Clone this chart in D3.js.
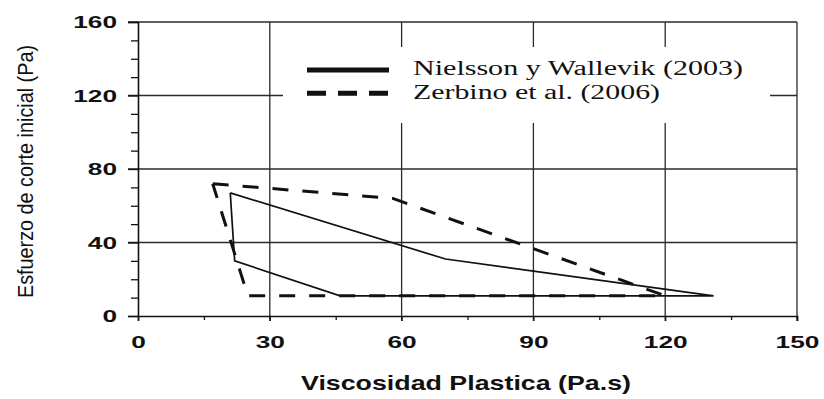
<!DOCTYPE html>
<html>
<head>
<meta charset="utf-8">
<script src="https://cdn.jsdelivr.net/npm/d3@7"></script>
<style>
  html, body { margin: 0; padding: 0; background: #fff; }
  svg { display: block; }
</style>
</head>
<body>
<svg id="chart" width="824" height="399"></svg>
<script>
// ---- data ----
const xTicks = [0, 30, 60, 90, 120, 150];
const xMinorTicks = [15, 45, 75, 105, 135];
const yTicks = [0, 40, 80, 120, 160];
const yMinorTicks = [10, 20, 30, 50, 60, 70, 90, 100, 110, 130, 140, 150];
const seriesNames = ["Nielsson y Wallevik (2003)", "Zerbino et al. (2006)"];
const nielssonX = [21, 70, 131, 46, 22, 21];
const nielssonY = [67, 31, 11, 11, 30, 67];
const zerbinoX = [17, 58, 120, 25, 17];
const zerbinoY = [72, 64, 11, 11, 72];
const xTitle = "Viscosidad Plastica (Pa.s)";
const yTitle = "Esfuerzo de corte inicial (Pa)";

// ---- layout ----
const svg = d3.select("#chart");
const x = d3.scaleLinear().domain([0, 150]).range([138, 797]);
const y = d3.scaleLinear().domain([0, 160]).range([316, 22]);
const ink = "#111";
const gridColor = "#2a2a2a";
const sansBold = "'Liberation Sans', Arial, sans-serif";
const digitAdv = 14.6;

// gridlines (horizontal, extend as major ticks to the left)
svg.append("g").selectAll("line").data(yTicks.filter(d => d > 0)).join("line")
  .attr("x1", x(0) - 10).attr("x2", x(150))
  .attr("y1", d => y(d)).attr("y2", d => y(d))
  .attr("stroke", gridColor).attr("stroke-width", 1.3);
// gridlines (vertical, extend as major ticks below)
svg.append("g").selectAll("line").data(xTicks.filter(d => d > 0)).join("line")
  .attr("x1", d => x(d)).attr("x2", d => x(d))
  .attr("y1", y(160)).attr("y2", y(0) + 5)
  .attr("stroke", gridColor).attr("stroke-width", 1.3);

// legend background (hides gridlines)
const lg = svg.append("g");
lg.append("rect").attr("x", 283).attr("y", 47).attr("width", 487).attr("height", 76).attr("fill", "#fff");

// data
const line = d3.line().x(d => x(d[0])).y(d => y(d[1]));
const nData = nielssonX.map((v, i) => [v, nielssonY[i]]);
const zData = zerbinoX.map((v, i) => [v, zerbinoY[i]]);
svg.append("path").datum(nData).attr("d", line)
  .attr("fill", "none").attr("stroke", ink).attr("stroke-width", 1.7)
  .attr("stroke-linejoin", "miter");
svg.append("path").datum(zData).attr("d", line)
  .attr("fill", "none").attr("stroke", ink).attr("stroke-width", 3)
  .attr("stroke-dasharray", "16,14");

// axes
const yAxis = svg.append("g").attr("transform", `translate(${x(0)},0)`)
  .call(d3.axisLeft(y).tickValues(yTicks).tickSize(10).tickFormat(d3.format("d")));
const yMinor = svg.append("g").attr("transform", `translate(${x(0)},0)`)
  .call(d3.axisLeft(y).tickValues(yMinorTicks).tickSize(7).tickFormat(""));
const xAxis = svg.append("g").attr("transform", `translate(0,${y(0)})`)
  .call(d3.axisBottom(x).tickValues(xTicks).tickSize(5).tickFormat(d3.format("d")));
const xMinor = svg.append("g").attr("transform", `translate(0,${y(0)})`)
  .call(d3.axisBottom(x).tickValues(xMinorTicks).tickSize(4).tickFormat(""));

[yAxis, yMinor, xAxis, xMinor].forEach(g => {
  g.select(".domain").attr("stroke", ink).attr("stroke-width", 1.6);
  g.selectAll(".tick line").attr("stroke", ink).attr("stroke-width", 1.3);
});
yMinor.select(".domain").remove();
xMinor.select(".domain").remove();

yAxis.selectAll(".tick text")
  .attr("x", -21).attr("dy", "0.36em")
  .attr("font-family", sansBold).attr("font-weight", "bold").attr("font-size", 16.5)
  .attr("fill", ink)
  .attr("textLength", d => String(d).length * digitAdv)
  .attr("lengthAdjust", "spacingAndGlyphs");
xAxis.selectAll(".tick text")
  .attr("y", 20.5).attr("dy", "0.71em")
  .attr("font-family", sansBold).attr("font-weight", "bold").attr("font-size", 16.5)
  .attr("fill", ink)
  .attr("text-anchor", "middle")
  .attr("textLength", d => String(d).length * digitAdv)
  .attr("lengthAdjust", "spacingAndGlyphs");

// axis titles
svg.append("text")
  .attr("x", 466).attr("y", 390)
  .attr("text-anchor", "middle")
  .attr("font-family", sansBold).attr("font-weight", "bold").attr("font-size", 20.5)
  .attr("fill", ink)
  .attr("textLength", 330).attr("lengthAdjust", "spacingAndGlyphs")
  .text(xTitle);
svg.append("text")
  .attr("transform", "translate(33,171.5) rotate(-90)")
  .attr("text-anchor", "middle")
  .attr("font-family", "'Liberation Sans', Arial, sans-serif").attr("font-size", 22)
  .attr("fill", ink)
  .attr("textLength", 253).attr("lengthAdjust", "spacingAndGlyphs")
  .text(yTitle);

// legend
const legendRows = [
  { name: seriesNames[0], dash: null, ty: 75, ly: 70, len: 330 },
  { name: seriesNames[1], dash: "19,12", ty: 98.5, ly: 93.3, len: 247 }
];
legendRows.forEach(r => {
  lg.append("line").attr("x1", 307).attr("x2", 389).attr("y1", r.ly).attr("y2", r.ly)
    .attr("stroke", ink).attr("stroke-width", 5)
    .attr("stroke-dasharray", r.dash);
  lg.append("text").attr("x", 413).attr("y", r.ty)
    .attr("font-family", "'Liberation Serif', 'Times New Roman', serif").attr("font-size", 20)
    .attr("fill", ink)
    .attr("textLength", r.len).attr("lengthAdjust", "spacingAndGlyphs")
    .text(r.name);
});
</script>
</body>
</html>
